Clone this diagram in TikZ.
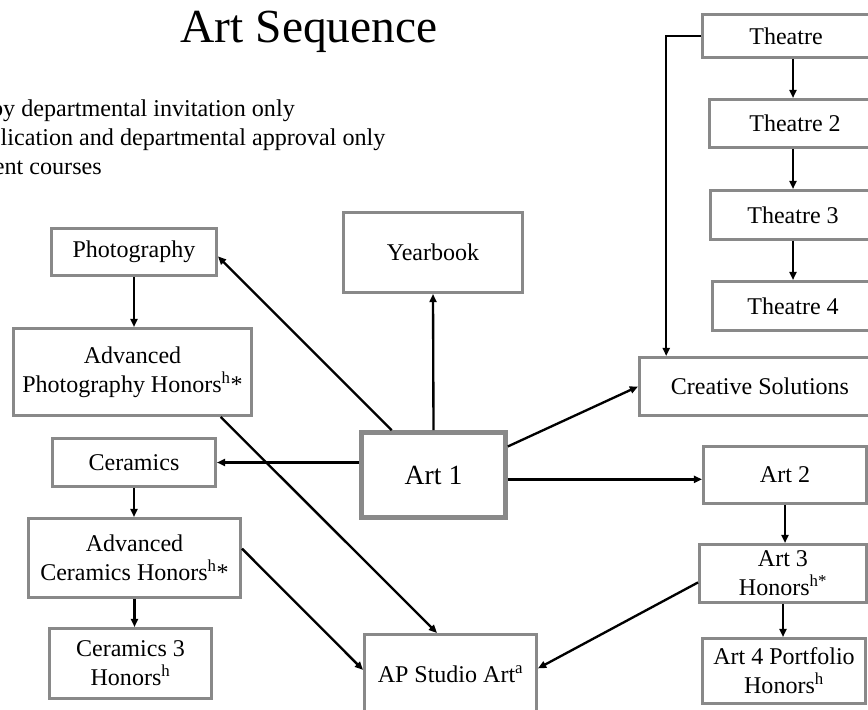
\documentclass[tikz,border=0pt]{standalone}
\usepackage{fontspec}
\setmainfont{Liberation Serif}
\usetikzlibrary{arrows.meta}
\definecolor{boxgray}{RGB}{137,137,137}
\newdimen\pxu
\pxu=0.03cm

\begin{document}
\begin{tikzpicture}[x=0.03cm, y=-0.03cm,
	box/.style={draw=boxgray, line width=2.5pt, inner sep=0pt, align=center, font=\fontsize{20.5}{24.7}\selectfont},
	wh/.style 2 args={minimum width=#1\pxu, minimum height=#2\pxu},
	note/.style={anchor=base east, inner sep=0pt, font=\fontsize{20.6}{24.7}\selectfont},
	conn/.style={line width=2pt, -{Triangle[length=7pt,width=6pt]}}]
	
	\fill[white] (0,0) rectangle (868,710);
	\useasboundingbox (0,0) rectangle (868,710);
	\clip (0,0) rectangle (868,710);
	
	% title and notes
	\node[anchor=base, inner sep=0pt, font=\fontsize{40.5}{48}\selectfont] (title) at (309,43) {Art Sequence};
	\node[note] (note1) at (295,117) {by departmental invitation only};
	\node[note, anchor=base west] (note2) at (0.5,146) {lication and departmental approval only};
	\node[note] (note3) at (102,175) {ent courses};
	
	% left column
	\node[box, wh={165}{47}] (photo)    at (134,252)   {Photography};
	\node[box, wh={238}{87}] (advphoto) at (132.5,372) {Advanced\\Photography Honors\textsuperscript{h}*};
	\node[box, wh={163}{48}] (ceramics) at (134,462.5) {Ceramics};
	\node[box, wh={212}{79}] (advcer)   at (134.5,558) {Advanced\\Ceramics Honors\textsuperscript{h}*};
	\node[box, wh={162}{70}] (cer3)     at (130.5,663.5) {Ceramics 3\\Honors\textsuperscript{h}};
	
	% middle column
	\node[box, wh={179}{80}] (yearbook) at (433,252.5) {Yearbook};
	\node[box, wh={144}{85}, line width=4pt, font=\fontsize{23.7}{28}\selectfont] (art1) at (433.5,475) {Art 1};
	\node[box, wh={172}{80}] (ap)       at (450.5,674.5) {AP Studio Art\textsuperscript{a}};
	
	% right column
	\node[box, wh={167}{43}] (theatre)  at (786,36)    {Theatre};
	\node[box, wh={171}{48}] (theatre2) at (795,123.5) {Theatre 2};
	\node[box, wh={165}{49}] (theatre3) at (793,215)   {Theatre 3};
	\node[box, wh={161}{49}] (theatre4) at (793,306)   {Theatre 4};
	\node[box, wh={241}{58}] (cs)       at (760,386.5) {Creative Solutions};
	\node[box, wh={163}{57}] (art2)     at (785,475)   {Art 2};
	\node[box, wh={167}{58}] (art3)     at (783,573.5) {Art 3\\Honors\textsuperscript{h*}};
	\node[box, wh={163}{65}] (art4)     at (784,671)   {Art 4 Portfolio\\Honors\textsuperscript{h}};
	
	% connectors
	\path[conn] (art1.133) edge (photo.-3);
	\path[conn] (art1.north) edge (yearbook.south);
	\path[conn] (art1.21) edge (cs.west);
	\path[conn] (ceramics -| art1.west) edge (ceramics.east);
	\path[conn] (art2.183 -| art1.east) edge (art2.183);
	\path[conn] (photo.south) edge (photo.south |- advphoto.north);
	\path[conn] (ceramics.south) edge (ceramics.south |- advcer.north);
	\path[conn] (advcer.south) edge (advcer.south |- cer3.north);
	\path[conn] (advphoto.-27) edge (ap.108);
	\path[conn] (advcer.5) edge (ap.177);
	\path[conn] (art3.186) edge (ap.4);
	\path[conn] (art2.south) edge (art2.south |- art3.north);
	\path[conn] (art3.south) edge (art3.south |- art4.north);
	\path[conn] (theatre.south -| theatre3.north) edge (theatre2.north -| theatre3.north);
	\path[conn] (theatre2.south -| theatre3.north) edge (theatre3.north);
	\path[conn] (theatre3.south) edge (theatre4.north);
	\draw[conn] (theatre.west) -| (cs.162);
	
\end{tikzpicture}
\end{document}
